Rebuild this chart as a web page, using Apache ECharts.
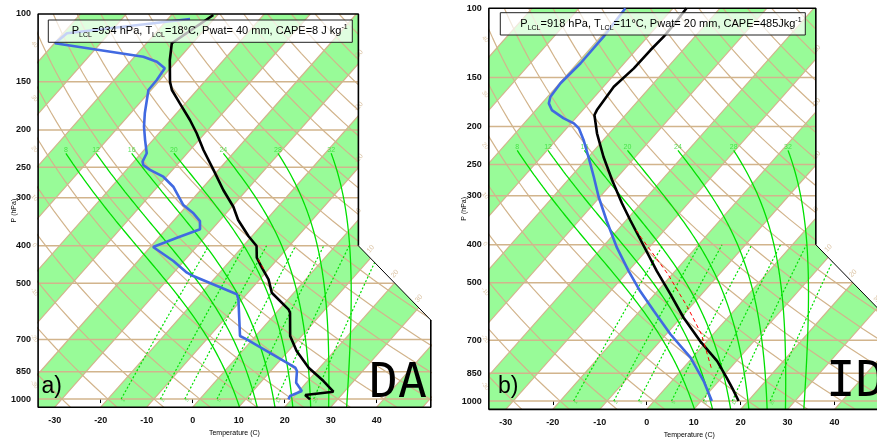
<!DOCTYPE html>
<html><head><meta charset="utf-8">
<script src="https://cdn.jsdelivr.net/npm/echarts@6/dist/echarts.min.js"></script>
<style>html,body{margin:0;padding:0;background:#fff}#c{width:877px;height:442px}</style>
</head><body><div id="c"></div>
<script>
// ---------------- data ----------------
const pressureTicks = [100,150,200,250,300,400,500,700,850,1000];
const isobarLevels = [150,200,250,300,400,500,700,850,1000];
const tempTicks = [-30,-20,-10,0,10,20,30,40];
const isothermValues = [-110,-100,-90,-80,-70,-60,-50,-40,-30,-20,-10,0,10,20,30,40,50];
const isothermLabelValues = [-30,-20,-10,0,10,20,30];
const dryAdiabatThetas = [-40,-30,-20,-10,0,10,20,30,40,50,60,70,80,90,100,110,120,130,140,150,160,170,180,190,200];
const dryAdiabatLabelThetas = [-30,-20,-10,0,10,20,30,40];
const moistAdiabatThetaW = [8,12,16,20,24,28,32];
const mixingRatios = [1,2,3,5,8,12,20];
const bandStarts = [-100,-80,-60,-40,-20,0,20,40];

// Panel a (DA): [pressure hPa, temperature C]
const daTemp = [[100.6,-70.9],[119.1,-74.5],[131.7,-71.7],[149.9,-67.5],[157.5,-65.5],[170.6,-61.2],[188.5,-55.8],[204,-51.8],[225.5,-47.1],[254,-41.1],[286.5,-35.1],[316.6,-29.7],[342.8,-26.1],[377.2,-20.8],[400.5,-17.1],[429.5,-14.8],[456.6,-11.7],[488.8,-8.1],[529.7,-4.8],[584.8,2.0],[596.9,3.0],[686,7.5],[750.6,11.8],[829,17.6],[898,23.4],[957,27.6],[976,22.1],[1002,24.0]];
const daDew = [[103,-75.2],[112.2,-99.2],[119.1,-99.9],[129.1,-78.1],[133,-74.2],[138.4,-71.2],[148.4,-70.7],[157.5,-70.6],[167.3,-69.0],[181.1,-66.9],[196.2,-64.5],[212.5,-61.7],[230,-58.8],[241.8,-58.1],[246.7,-57.3],[254,-54.9],[264.6,-50.7],[280.9,-46.6],[313.4,-40.9],[329.4,-37.1],[345,-34.2],[362.4,-32.6],[381,-36.0],[402.9,-39.4],[438,-32.3],[469.8,-27.1],[479.2,-25.1],[534.6,-12.1],[550.8,-10.8],[686,-3.4],[699.8,-1.3],[829,14.7],[845.6,15.7],[907.6,17.8],[953,20.6],[982,19.0],[1002,19.3]];
const daParcel = [[433.6,-14.2],[465,-10.5]];
const daStats = {plcl:934, tlcl:18, pwat:40, cape:'8 J kg'};

// Panel b (ID)
const idTemp = [[100,-67.1],[110.3,-66.7],[118.1,-66.6],[127.7,-66.9],[142.2,-67.0],[158.4,-67.8],[181.6,-67.0],[186.9,-66.6],[208.1,-62.6],[238.8,-56.8],[273.6,-50.6],[313.7,-44.1],[346,-39.2],[403,-31.4],[466.7,-23.9],[534.9,-16.6],[613.7,-9.4],[703.6,-1.5],[791,5.9],[872.6,11.1],[934,14.6],[1000,18.0]];
const idDew = [[100,-80.1],[118.1,-79.4],[138,-79.3],[155.2,-79.8],[168,-79.4],[174.6,-78.5],[181.6,-76.6],[190.6,-72.5],[196.3,-69.4],[202.1,-67.4],[216.4,-64.2],[238.8,-60.0],[268.5,-55.1],[301.9,-50.3],[339.5,-45.1],[348,-44.0],[407,-36.8],[466.7,-29.9],[524.7,-23.7],[589.9,-17.0],[676,-9.1],[775.6,-0.4],[889.6,6.8],[1000,12.3]];
const idParcel = [[822.7,5.9],[676,-2.5],[578.5,-10.4],[475.8,-20.9],[383.8,-33.5],[362,-36.8]];
const idStats = {plcl:918, tlcl:11, pwat:20, cape:'485Jkg'};

// ---------------- skew-T transform ----------------
const Y = p => 132.182 - 44.061*Math.log10(p);
const X = (T,p) => 0.54*T + 0.90692*Y(p);
const YMIN = Y(1050), YMAX = Y(100);
const XMIN = -19, XMAX = 27.1, XCUT = 18.6, YCUT = Y(400);
const YCUT2 = XCUT + YCUT - XMAX;
const tp = arr => arr.map(([p,t]) => [X(t,p), Y(p)]);

// thermodynamics
const esat = Tc => 6.112*Math.exp(17.67*Tc/(Tc+243.5));
function dTdp(Tk,p){
  const Rd=287.04, cp=1005.7, Lv=2.501e6, eps=0.622;
  const e=esat(Tk-273.15), rs=eps*e/(p-e);
  return (Rd*Tk + Lv*rs)/(p*(cp + Lv*Lv*rs*eps/(Rd*Tk*Tk)));
}
function rk4(T,p,h){
  const k1=dTdp(T,p), k2=dTdp(T+h/2*k1,p+h/2), k3=dTdp(T+h/2*k2,p+h/2), k4=dTdp(T+h*k3,p+h);
  return T + h/6*(k1+2*k2+2*k3+k4);
}
function moistAdiabat(thw){
  let T = thw+273.15; const down=[[1000,T]];
  for(let p=1000;p<1050;p+=5){ T=rk4(T,p,5); down.push([p+5,T]); }
  T = thw+273.15; const up=[];
  for(let p=1000;p>230;p-=5){ T=rk4(T,p,-5); up.push([p-5,T]); }
  return down.reverse().concat(up).map(([p,t])=>[p,t-273.15]);
}
function dryAdiabat(th){
  const out=[]; for(let i=0;i<=40;i++){ const p=1050*Math.pow(100/1050,i/40); out.push([p,(th+273.15)*Math.pow(p/1000,0.286)-273.15]); } return out;
}
function mixLine(r){
  const out=[]; for(let p=1000;p>=400;p-=50){ const e=(r/1000)*p/(0.622+r/1000); const l=Math.log(e/6.112); out.push([p,243.5*l/(17.67-l)]); } return out;
}

// ---------------- layout ----------------
const GRIDS = [
  {left:38.1, top:14, width:392.7, height:393.2},
  {left:488.85, top:8.3, width:400.9, height:401.05}
];
const TAN='#d2b48c', PALE='#98fb98', GRN='#00e000';
const FONT='"Liberation Sans", Arial, Helvetica, sans-serif';

function L(gi, data, ls, z, extra){
  return Object.assign({type:'line', xAxisIndex:gi, yAxisIndex:gi, data, showSymbol:false, symbol:'none',
    silent:true, animation:false, lineStyle:ls, z:z||2, clip:true}, extra||{});
}
function S(gi, data, label, z){
  return {type:'scatter', xAxisIndex:gi, yAxisIndex:gi, data, symbolSize:0, silent:true, animation:false, z:z||6, clip:false,
    label:Object.assign({show:true, formatter:'{b}', fontFamily:FONT}, label)};
}

const series=[];
const panels=[{temp:daTemp,dew:daDew,parcel:daParcel},{temp:idTemp,dew:idDew,parcel:idParcel}];
panels.forEach((pd,gi)=>{
  // green temperature bands
  series.push({type:'custom', xAxisIndex:gi, yAxisIndex:gi, z:1, silent:true, animation:false,
    data: bandStarts.map(t=>[t,0]),
    renderItem(params, api){
      const t=api.value(0);
      const pts=[[X(t,1050),YMIN],[X(t+10,1050),YMIN],[X(t+10,100),YMAX],[X(t,100),YMAX]].map(c=>api.coord(c));
      const cs=params.coordSys;
      return {type:'polygon', shape:{points:pts}, style:{fill:PALE},
        clipPath:{type:'rect', shape:{x:cs.x,y:cs.y,width:cs.width,height:cs.height}}};
    }});
  isobarLevels.forEach(p=>series.push(L(gi,[[XMIN,Y(p)],[XMAX,Y(p)]],{color:TAN,width:1.5})));
  isothermValues.forEach(t=>series.push(L(gi,[[X(t,1050),YMIN],[X(t,100),YMAX]],{color:TAN,width:1.2})));
  dryAdiabatThetas.forEach(th=>series.push(L(gi,tp(dryAdiabat(th)),{color:TAN,width:1.2})));
  moistAdiabatThetaW.forEach(w=>series.push(L(gi,tp(moistAdiabat(w)),{color:GRN,width:1.3},3)));
  mixingRatios.forEach(r=>series.push(L(gi,tp(mixLine(r)),{color:GRN,width:1.2,type:[2,2]},3)));
  // labels for moist adiabats (top) and mixing ratio lines (bottom)
  series.push(S(gi, moistAdiabatThetaW.map(w=>{const a=moistAdiabat(w); const q=a[a.length-1]; return {name:String(w), value:[X(q[1],q[0]),Y(q[0])]};}),
    {position:'top', distance:0, fontSize:7, color:'#33dd33'},3));
  series.push(S(gi, mixingRatios.map(r=>{const q=mixLine(r)[0]; return {name:String(r), value:[X(q[1],q[0]),Y(q[0])]};}),
    {position:'bottom', distance:0, fontSize:5, color:'#44dd44', rotate:60},3));
  // white corner (outside the diagram)
  series.push({type:'custom', xAxisIndex:gi, yAxisIndex:gi, z:4, silent:true, animation:false, data:[[0,0]],
    renderItem(params, api){
      const pts=[[XCUT,YMAX+1],[XCUT,YCUT],[XMAX,YCUT2],[XMAX+0.4,YCUT2],[XMAX+0.4,YMAX+1]].map(c=>api.coord(c));
      return {type:'polygon', shape:{points:pts}, style:{fill:'#fff'}};
    }});
  // outline
  series.push(L(gi,[[XMAX,YCUT2],[XMAX,YMIN],[XMIN,YMIN],[XMIN,YMAX],[XCUT,YMAX],[XCUT,YCUT]],{color:'#000',width:1.6},7,{clip:false}));
  series.push(L(gi,[[XCUT,YCUT],[XMAX,YCUT2]],{color:'#000',width:1},7,{clip:false}));
  // isotherm labels on right boundary
  const isoLab=[];
  isothermLabelValues.forEach(t=>{
    let y=(XCUT-0.54*t)/0.90692;
    if(y>YMAX) return;
    if(y<YCUT){ y=(XCUT+YCUT-0.54*t)/1.90692; if(y<YCUT2) return; }
    isoLab.push({name:String(t), value:[0.54*t+0.90692*y, y]});
  });
  series.push(S(gi, isoLab, {position:'inside', offset:[7,-6], rotate:48, fontSize:7, color:TAN},5));
  // dry adiabat labels on left boundary
  const dryLab=[];
  dryAdiabatLabelThetas.forEach(th=>{
    const f=p=>0.54*((th+273.15)*Math.pow(p/1000,0.286)-273.15)+0.90692*Y(p)-XMIN;
    let a=100,b=1050; if(f(a)*f(b)>0) return;
    for(let i=0;i<50;i++){const m=(a+b)/2; if(f(a)*f(m)<=0) b=m; else a=m;}
    dryLab.push({name:String(th), value:[XMIN, Y((a+b)/2)]});
  });
  series.push(S(gi, dryLab, {position:'inside', offset:[5,9], rotate:-50, fontSize:6, color:TAN},5));
  // profiles
  series.push(L(gi,tp(pd.dew),{color:'#4169e1',width:2.6},8));
  series.push(L(gi,tp(pd.temp),{color:'#000',width:2.6},8));
  series.push(L(gi,tp(pd.parcel),{color:'#ff0000',width:1,type:[4,3]},9));
});

const xTickVals = tempTicks.map(t=>0.54*t+0.90692*YMIN);
const yTickVals = pressureTicks.map(Y);
const option = {
  backgroundColor:'#fff',
  animation:false,
  grid: GRIDS.map(g=>Object.assign({containLabel:false, outerBoundsMode:'none'}, g)),
  xAxis: GRIDS.map((g,i)=>({gridIndex:i, type:'value', min:XMIN, max:XMAX,
    splitLine:{show:false}, axisLine:{show:false},
    axisTick:{show:true, customValues:xTickVals, length:4, lineStyle:{color:'#000',width:1}},
    axisLabel:{customValues:xTickVals, formatter:v=>String(Math.round((v-0.90692*YMIN)/0.54)), fontSize:9, fontWeight:'bold', color:'#111', margin:9, fontFamily:FONT},
    name:'Temperature (C)', nameLocation:'middle', nameGap:22, nameMoveOverlap:false, nameTextStyle:{fontSize:7, color:'#000', fontFamily:FONT}})),
  yAxis: GRIDS.map((g,i)=>({gridIndex:i, type:'value', min:YMIN, max:YMAX,
    splitLine:{show:false}, axisLine:{show:false}, axisTick:{show:false},
    axisLabel:{customValues:yTickVals, formatter:v=>String(Math.round(Math.pow(10,(132.182-v)/44.061))), fontSize:9, fontWeight:'bold', color:'#111', margin:7, fontFamily:FONT},
    name:'P (hPa)', nameLocation:'middle', nameRotate:90, nameGap:21, nameMoveOverlap:false, nameTextStyle:{fontSize:7, color:'#000', fontFamily:FONT}})),
  series,
  graphic:[
    {type:'rect', z:100, shape:{x:48.3,y:20,width:304,height:22.3}, style:{fill:'rgba(255,255,255,0.7)', stroke:'#222', lineWidth:1}},
    {type:'text', z:101, x:71.7, y:31, style:{text:`{n|P}{s|LCL}{n|=${daStats.plcl} hPa, T}{s|LCL}{n|=${daStats.tlcl}°C, Pwat= ${daStats.pwat} mm, CAPE=${daStats.cape}}{u|-1}`, verticalAlign:'middle', align:'left',
      rich:{n:{fontSize:11, lineHeight:15, fontFamily:FONT, fill:'#000'}, s:{fontSize:7, lineHeight:9, verticalAlign:'bottom', fontFamily:FONT, fill:'#000'}, u:{fontSize:7, lineHeight:9, verticalAlign:'top', fontFamily:FONT, fill:'#000'}}}},
    {type:'rect', z:100, shape:{x:500.3,y:12.7,width:305,height:22.3}, style:{fill:'rgba(255,255,255,0.7)', stroke:'#222', lineWidth:1}},
    {type:'text', z:101, x:520.3, y:24, style:{text:`{n|P}{s|LCL}{n|=${idStats.plcl} hPa, T}{s|LCL}{n|=${idStats.tlcl}°C, Pwat= ${idStats.pwat} mm, CAPE=${idStats.cape}}{u|-1}`, verticalAlign:'middle', align:'left',
      rich:{n:{fontSize:11, lineHeight:15, fontFamily:FONT, fill:'#000'}, s:{fontSize:7, lineHeight:9, verticalAlign:'bottom', fontFamily:FONT, fill:'#000'}, u:{fontSize:7, lineHeight:9, verticalAlign:'top', fontFamily:FONT, fill:'#000'}}}},
    {type:'text', z:101, x:41.5, y:387, style:{text:'a)', fontSize:23, fontFamily:FONT, fill:'#000', verticalAlign:'middle'}},
    {type:'text', z:101, x:498, y:387, style:{text:'b)', fontSize:23, fontFamily:FONT, fill:'#000', verticalAlign:'middle'}},
    {type:'text', z:101, x:369, y:385, style:{text:'DA', fontSize:48, fontFamily:'"DejaVu Sans Mono", monospace', fill:'#000', verticalAlign:'middle'}},
    {type:'text', z:101, x:826, y:383, style:{text:'ID', fontSize:49, fontFamily:'"DejaVu Sans Mono", monospace', fill:'#000', verticalAlign:'middle'}}
  ]
};
const chart = echarts.init(document.getElementById('c'), null, {renderer:'canvas', width:877, height:442});
chart.setOption(option);
</script></body></html>
